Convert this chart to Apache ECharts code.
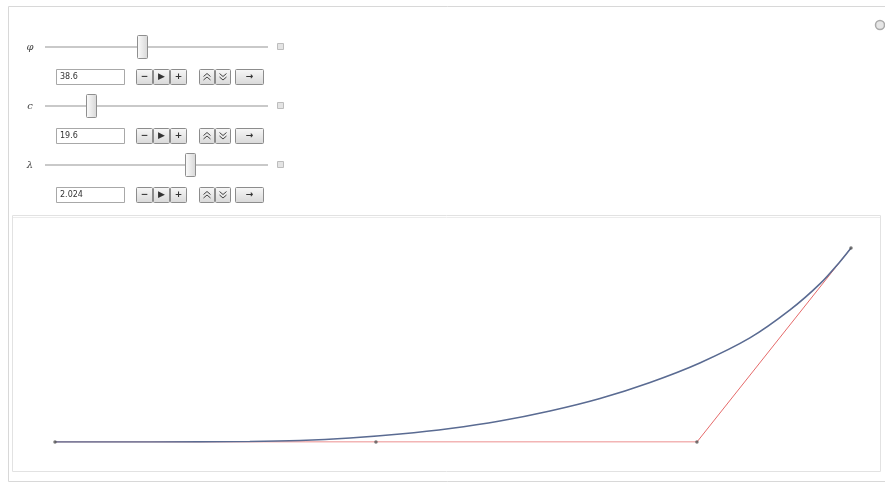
<!DOCTYPE html>
<html>
<head>
<meta charset="utf-8">
<script src="https://cdn.jsdelivr.net/npm/echarts@6/dist/echarts.min.js"></script>
<style>html,body{margin:0;padding:0;background:#fff;}#c{width:885px;height:484px;}</style>
</head>
<body>
<div id="c"></div>
<script>
// Control polygon (data units)
var controlX = [0, 1, 2, 2.48];
var controlY = [0, 0, 0, 0.604];
// Curve (data units)
var curveX = [0, 0.296, 0.607, 0.763, 0.919, 1.075, 1.231, 1.386, 1.542, 1.698, 1.854, 2.009, 2.165, 2.290, 2.383, 2.445, 2.48];
var curveY = [0, 0, 0.0016, 0.0047, 0.0125, 0.0249, 0.0421, 0.0654, 0.0966, 0.1355, 0.1854, 0.2461, 0.3240, 0.4112, 0.4922, 0.5607, 0.604];
// Manipulator controls
var ctrlLabels = ['φ', 'c', 'λ'];
var ctrlValues = ['38.6', '19.6', '2.024'];
var ctrlFractions = [0.435, 0.206, 0.65];

var chart = echarts.init(document.getElementById('c'));

var gEls = [];
// outer panel
gEls.push({type:'rect', z:0, shape:{x:8.5,y:6.5,width:890,height:475}, style:{fill:'#fff',stroke:'#d8d8d8',lineWidth:1}});
// inner plot panel
gEls.push({type:'rect', z:1, shape:{x:12.5,y:215.5,width:868,height:256}, style:{fill:'#fff',stroke:'#e2e2e2',lineWidth:1}});
gEls.push({type:'line', z:1, shape:{x1:13,y1:217.5,x2:880,y2:217.5}, style:{stroke:'#ececec',lineWidth:1}});
// top-right icon
gEls.push({type:'circle', z:1, shape:{cx:880,cy:25,r:4.5}, style:{fill:'#e6e6e6',stroke:'#aaa',lineWidth:1.5}});

var trackL = 45, trackR = 268;
var sliderY = [47, 106, 165];
var inputY = [77, 136, 195];
function btnBox(x, y, w) {
  gEls.push({type:'rect', z:1, shape:{x:x+0.5,y:y-7.5,width:w,height:15,r:1},
    style:{fill:new echarts.graphic.LinearGradient(0,0,0,1,[{offset:0,color:'#f8f8f8'},{offset:1,color:'#d8d8d8'}]),stroke:'#8c8c8c',lineWidth:1}});
}
function btn(x, y, w, glyph) {
  btnBox(x, y, w);
  gEls.push({type:'text', z:2, style:{x:x+w/2+0.5,y:y,text:glyph,fill:'#333',font:'bold 9px "DejaVu Sans"',align:'center',verticalAlign:'middle'}});
}
function chevBtn(x, y, w, up) {
  btnBox(x, y, w);
  var cx = x + w / 2 + 0.5, s = up ? -1 : 1;
  [-2, 1.5].forEach(function (off) {
    gEls.push({type:'polyline', z:2, shape:{points:[[cx-3.5, y+off-1.5*s],[cx, y+off+1.5*s],[cx+3.5, y+off-1.5*s]]},
      style:{stroke:'#444',lineWidth:1,fill:null}});
  });
}
for (var i = 0; i < 3; i++) {
  var sy = sliderY[i], iy = inputY[i];
  gEls.push({type:'text', z:2, style:{x:30,y:sy,text:ctrlLabels[i],fill:'#444',font:'italic 10px "DejaVu Serif"',align:'center',verticalAlign:'middle'}});
  gEls.push({type:'line', z:1, shape:{x1:trackL,y1:sy,x2:trackR,y2:sy}, style:{stroke:'#c9c9c9',lineWidth:2}});
  var tx = trackL + ctrlFractions[i] * (trackR - trackL);
  gEls.push({type:'rect', z:2, shape:{x:Math.round(tx)-4.5,y:sy-11.5,width:10,height:23,r:1},
    style:{fill:new echarts.graphic.LinearGradient(0,0,1,0,[{offset:0,color:'#fdfdfd'},{offset:1,color:'#d6d6d6'}]),stroke:'#8f8f8f',lineWidth:1}});
  // small end icon
  gEls.push({type:'rect', z:1, shape:{x:277.5,y:sy-3.5,width:6,height:6}, style:{fill:'#e4e4e4',stroke:'#bdbdbd',lineWidth:1}});
  // input field
  gEls.push({type:'rect', z:1, shape:{x:56.5,y:iy-7.5,width:68,height:15}, style:{fill:'#fff',stroke:'#a8a8a8',lineWidth:1}});
  gEls.push({type:'text', z:2, style:{x:60,y:iy,text:ctrlValues[i],fill:'#333',font:'8px "DejaVu Sans"',verticalAlign:'middle'}});
  btn(136, iy, 16, '−');
  btn(153, iy, 16, '▶');
  btn(170, iy, 16, '+');
  chevBtn(199, iy, 15, true);
  chevBtn(215, iy, 15, false);
  btn(235, iy, 28, '→');
}

function pairs(xs, ys) { return xs.map(function (x, k) { return [x, ys[k]]; }); }

chart.setOption({
  backgroundColor: '#fff',
  animation: false,
  graphic: { elements: gEls },
  grid: { left: 55, width: 796, top: 248, height: 194, containLabel: false },
  xAxis: { type: 'value', min: 0, max: 2.48, show: false },
  yAxis: { type: 'value', min: 0, max: 0.604, show: false },
  series: [
    { type: 'line', data: pairs(controlX, controlY), showSymbol: false, z: 3,
      lineStyle: { color: '#e56a6a', width: 1 } },
    { type: 'line', data: pairs(curveX, curveY), showSymbol: false, smooth: 0.3, z: 4,
      lineStyle: { color: '#5a6b92', width: 1.6 } },
    { type: 'scatter', data: pairs(controlX, controlY), symbolSize: 3.5, z: 5,
      itemStyle: { color: '#555' } }
  ]
});
</script>
</body>
</html>
